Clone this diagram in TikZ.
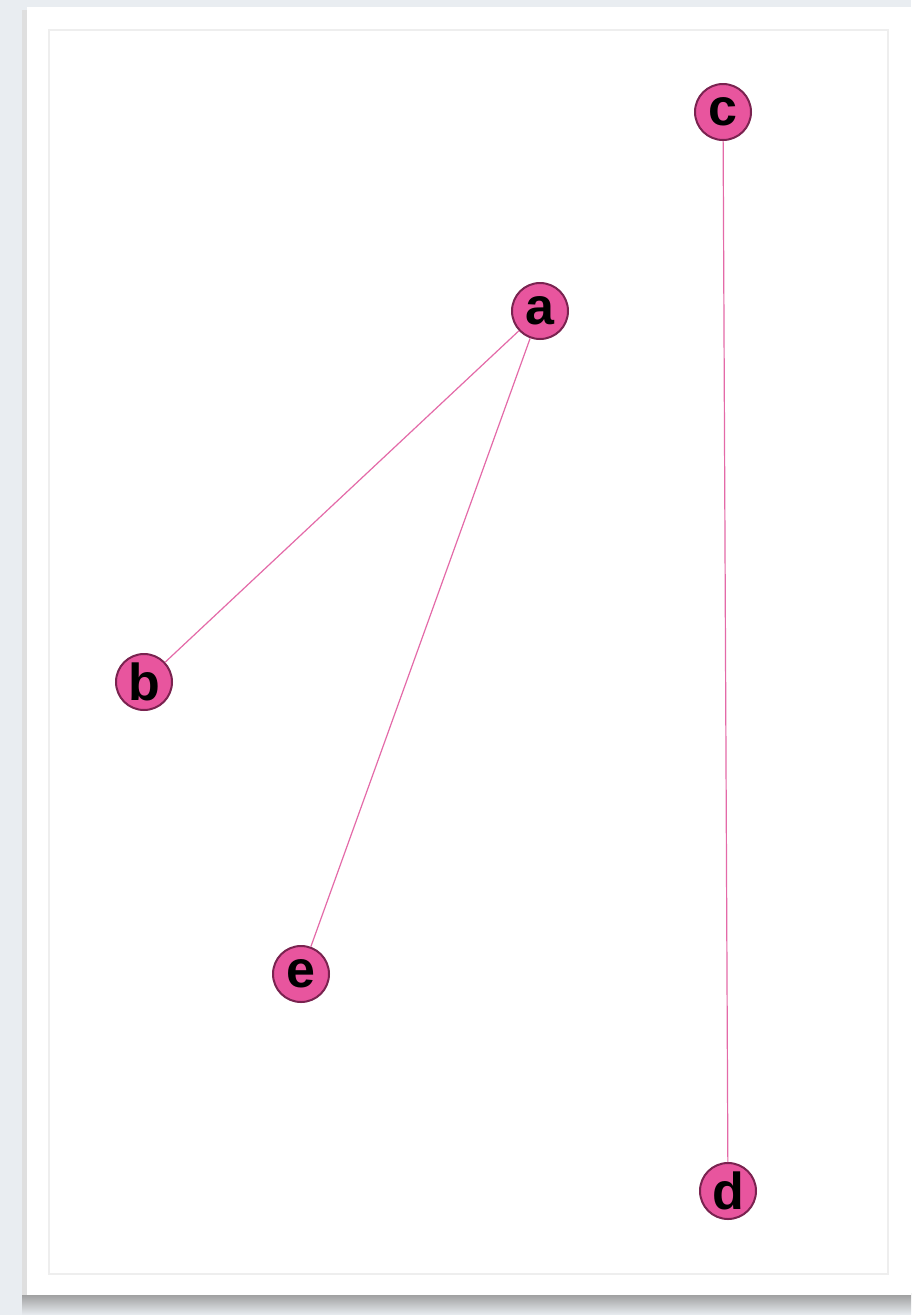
\documentclass[tikz,border=0pt]{standalone}
\usepackage{fontspec}
\setmainfont{Liberation Sans}
\definecolor{bg}{HTML}{E9EDF1}
\definecolor{nodefill}{HTML}{E8559E}
\definecolor{nodeline}{HTML}{7A2350}
\definecolor{edgecol}{HTML}{E46AA8}
\definecolor{innerline}{HTML}{EEEEEE}
\tikzset{
  vertex/.style={circle, fill=nodefill, draw=nodeline, line width=2pt, minimum size=56pt, inner sep=0pt, font=\fontsize{52}{52}\selectfont\bfseries, text=black},
  edge/.style={draw=edgecol, line width=1.2pt}
}
\begin{document}
\begin{tikzpicture}[x=1pt,y=-1pt]
\useasboundingbox (0,0) rectangle (911,1315);
\fill[bg] (0,0) rectangle (911,1315);
% shadow
\shade[top color=gray!80, bottom color=bg] (22,1293) rectangle (911,1315);
\fill[gray!25] (22,10) rectangle (28,1295);
\fill[white] (27,7) rectangle (911,1295);
\draw[innerline, line width=1.5pt] (49,30) rectangle (888,1274);
% nodes
\node[vertex] (c) at (723,112) {c};
\node[vertex] (a) at (540,311) {a};
\node[vertex] (b) at (144,682) {b};
\node[vertex] (e) at (301,974) {e};
\node[vertex] (d) at (728,1191) {d};
\draw[edge] (a) -- (b);
\draw[edge] (a) -- (e);
\draw[edge] (c) -- (d);
\end{tikzpicture}
\end{document}
